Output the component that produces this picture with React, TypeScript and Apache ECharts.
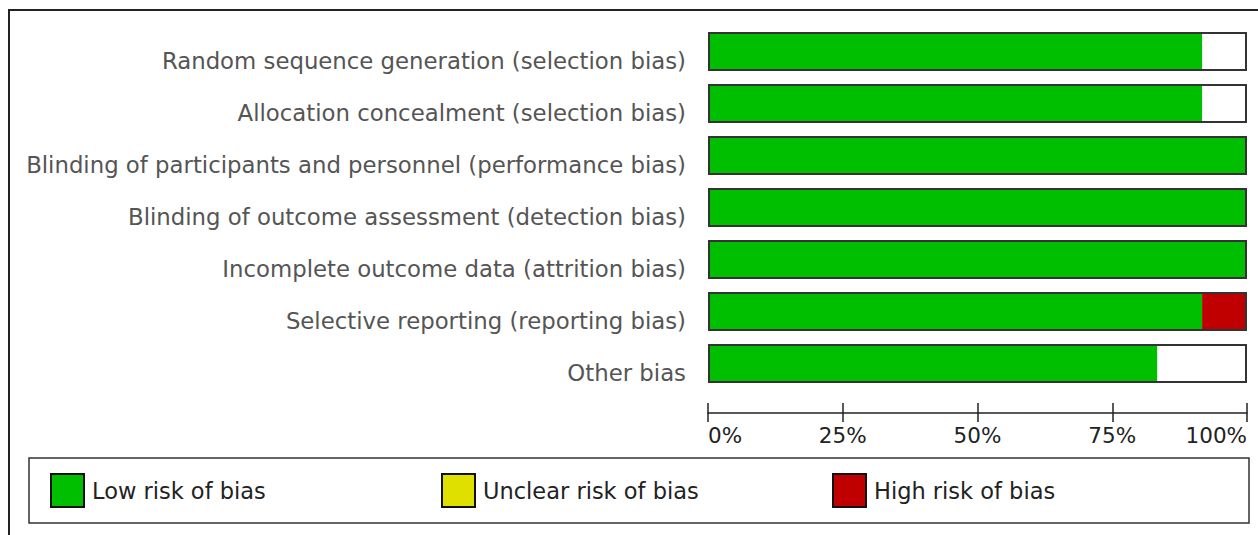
import React, { useEffect, useRef } from "react";
import * as echarts from "echarts";

const categories = [
  "Random sequence generation (selection bias)",
  "Allocation concealment (selection bias)",
  "Blinding of participants and personnel (performance bias)",
  "Blinding of outcome assessment (detection bias)",
  "Incomplete outcome data (attrition bias)",
  "Selective reporting (reporting bias)",
  "Other bias",
];
const totalStudies = 12;
const lowCounts = [11, 11, 12, 12, 12, 11, 10];
const unclearCounts = [0, 0, 0, 0, 0, 0, 0];
const highCounts = [0, 0, 0, 0, 0, 1, 0];
const xTicks = [0, 25, 50, 75, 100];
const legendNames = ["Low risk of bias", "Unclear risk of bias", "High risk of bias"];
const colors = ["#00BF00", "#E0E000", "#C00000"];

const pct = (arr: number[]) => arr.map((v) => (v / totalStudies) * 100);

export default function App() {
  const ref = useRef<HTMLDivElement>(null);
  useEffect(() => {
    if (!ref.current) return;
    const chart = echarts.init(ref.current, null, { renderer: "svg" });
    const seriesData = [pct(lowCounts), pct(unclearCounts), pct(highCounts)];
    const legendLefts = [50, 441, 832];
    const option: any = {
      animation: false,
      backgroundColor: "#fff",
      grid: { left: 708, width: 539, top: 25.5, height: 364, containLabel: false },
      xAxis: [
        {
          type: "value",
          position: "bottom",
          min: 0,
          max: 100,
          interval: 25,
          offset: 23.5,
          splitLine: { show: false },
          axisLine: { show: true, lineStyle: { color: "#222", width: 1.5 } },
          axisTick: { show: true, inside: false, length: 9, lineStyle: { color: "#222", width: 1.5 } },
          axisLabel: {
            formatter: (v: number) => (xTicks.includes(v) ? v + "%" : ""),
            color: "#222",
            fontSize: 21.5,
            fontFamily: "DejaVu Sans",
            margin: 11,
            alignMinLabel: "left",
            alignMaxLabel: "right",
          },
        },
        {
          type: "value",
          position: "bottom",
          min: 0,
          max: 100,
          interval: 25,
          offset: 23.5,
          splitLine: { show: false },
          axisLine: { show: false },
          axisTick: { show: true, inside: true, length: 10, lineStyle: { color: "#222", width: 1.5 } },
          axisLabel: { show: false },
        },
      ],
      yAxis: {
        type: "category",
        data: categories,
        inverse: true,
        axisLine: { show: false },
        axisTick: { show: false },
        splitLine: { show: false },
        axisLabel: {
          margin: 22,
          formatter: (v: string) => "{a|" + v + "}",
          rich: {
            a: {
              color: "#555",
              fontSize: 22.8,
              fontFamily: "DejaVu Sans",
              padding: [18, 0, 0, 0],
            },
          },
        },
      },
      legend: legendNames.map((n, i) => ({
        data: [n],
        left: legendLefts[i],
        top: 473,
        padding: 0,
        icon: "rect",
        itemWidth: 33,
        itemHeight: 33,
        selectedMode: false,
        itemStyle: { borderColor: "#111", borderWidth: 2 },
        textStyle: {
          color: "#222",
          fontSize: 22.5,
          fontFamily: "DejaVu Sans",
          padding: [0, 0, 0, 3],
        },
      })),
      series: [
        ...legendNames.map((n, i) => ({
          name: n,
          type: "bar",
          stack: "risk",
          xAxisIndex: 0,
          data: seriesData[i],
          barCategoryGap: "25%",
          barGap: "-100%",
          silent: true,
          itemStyle: { color: colors[i], borderWidth: 0 },
        })),
        {
          name: "frame",
          type: "bar",
          stack: "frame",
          xAxisIndex: 0,
          data: categories.map(() => 100),
          barCategoryGap: "25%",
          barGap: "-100%",
          silent: true,
          z: 5,
          itemStyle: { color: "rgba(0,0,0,0)", borderColor: "#333", borderWidth: 2 },
        },
      ],
      graphic: [
        {
          type: "rect",
          shape: { x: 9, y: 10, width: 1400, height: 700 },
          style: { fill: "none", stroke: "#222", lineWidth: 2 },
          silent: true,
        },
        {
          type: "rect",
          shape: { x: 29, y: 458, width: 1220, height: 65 },
          style: { fill: "none", stroke: "#333", lineWidth: 1.5 },
          silent: true,
        },
      ],
    };
    chart.setOption(option);
    return () => chart.dispose();
  }, []);
  return (
    <div
      ref={ref}
      style={{ position: "absolute", left: 0, top: 0, width: 1258, height: 535 }}
    />
  );
}
